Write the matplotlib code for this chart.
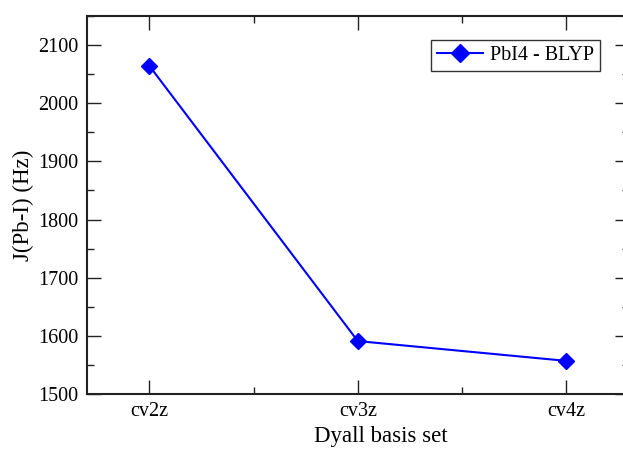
import matplotlib
matplotlib.use("Agg")
from matplotlib import pyplot as plt
from matplotlib.ticker import MultipleLocator, FixedLocator

# datos
bases = ["cv2z", "cv3z", "cv4z"]
j_pbi = [2064, 1591, 1557]

plt.rcParams['font.family'] = ['Liberation Serif', 'DejaVu Serif']

fig = plt.figure(figsize=(6.23, 4.49), dpi=100)
ax = fig.add_axes([87/623, 1-394/449, (628.6-87)/623, (394-16)/449])

x = list(range(len(bases)))
ax.plot(x, j_pbi, color="#0000ff", lw=1.5, marker="D", markersize=8,
        label="PbI4 - BLYP")

ax.set_xlim(-0.3, 2.3)
ax.set_ylim(1500, 2150)
ax.set_xticks(x)
ax.set_xticklabels(bases)
ax.xaxis.set_minor_locator(FixedLocator([0.5, 1.5]))
ax.yaxis.set_major_locator(MultipleLocator(100))
ax.yaxis.set_minor_locator(MultipleLocator(50))
ax.set_yticks([1500, 1600, 1700, 1800, 1900, 2000, 2100])

ax.tick_params(which="both", direction="in", top=True, right=True,
               labelsize=14.5, width=1, colors="#222222", labelcolor="black")
ax.tick_params(which="major", length=10, pad=6)
ax.tick_params(axis="x", which="major", pad=6)
ax.tick_params(which="minor", length=5)
for s in ax.spines.values():
    s.set_linewidth(1.5)
    s.set_color("#222222")

ax.set_xlabel("Dyall basis set", fontsize=16.5)
ax.xaxis.set_label_coords((381-87)/541.6, -0.085)
ax.set_ylabel("J(Pb-I) (Hz)", fontsize=16.5, labelpad=3)

leg = ax.legend(loc="upper right", bbox_to_anchor=(600/623, 1-40/449),
                bbox_transform=fig.transFigure, fontsize=14.5, frameon=True,
                fancybox=False, edgecolor="black", handlelength=2.3,
                borderpad=0.3, handletextpad=0.35, borderaxespad=0,
                markerscale=1.1)
leg.get_frame().set_linewidth(1)

fig.savefig("out.png", dpi=100)
